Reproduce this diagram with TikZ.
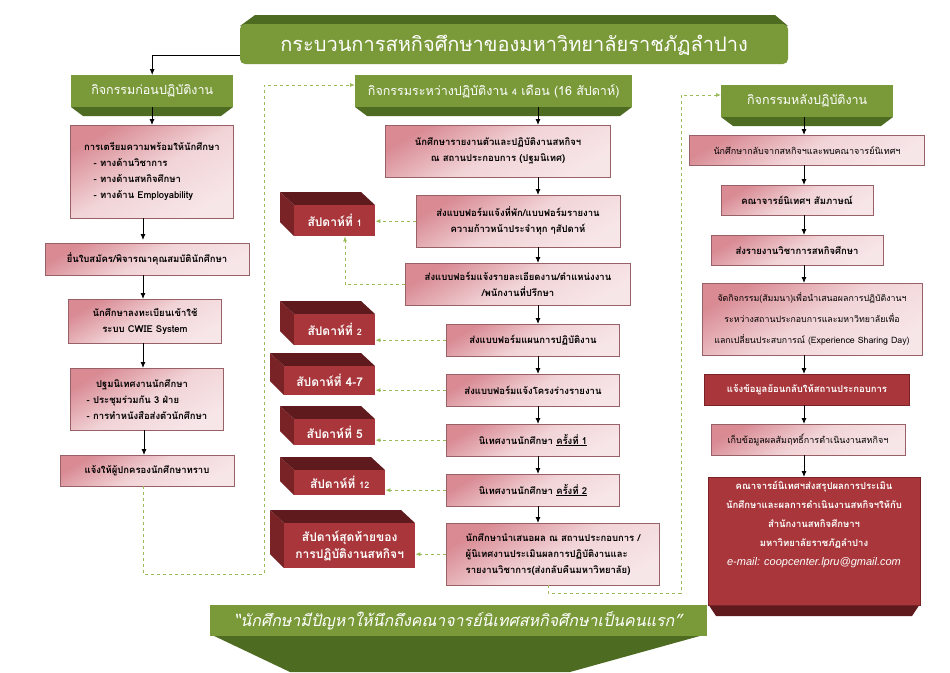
\documentclass[tikz,border=0pt]{standalone}
\usepackage{fontspec}
\setmainfont[Script=Thai]{Loma}
\usetikzlibrary{arrows.meta,calc}
\definecolor{gA}{HTML}{7A9A3A}
\definecolor{gB}{HTML}{4E6B22}
\definecolor{pk}{HTML}{D98A93}
\definecolor{pl}{HTML}{F7E6E8}
\definecolor{rA}{HTML}{A8363A}
\definecolor{rB}{HTML}{7A2326}
\definecolor{rC}{HTML}{5E1A1C}
\definecolor{dg}{HTML}{9BBB59}
\tikzset{
 pbox/.style={draw=pk!70!black,line width=0.3pt,top color=pk,bottom color=pl,middle color=pl!80!pk,shading angle=30,align=center,font=\bfseries\fontsize{9.5}{16}\selectfont,inner sep=2pt},
 rbox/.style={draw=rB,fill=rA,text=white,align=center,font=\bfseries\fontsize{9.5}{16}\selectfont,inner sep=2pt},
 hdr/.style={fill=gA,text=white,font=\fontsize{12.5}{14}\selectfont,inner sep=2pt,minimum height=30pt},
 arr/.style={-{Latex[length=6pt,width=5pt]},line width=0.9pt},
 darr/.style={-{Latex[length=5pt,width=4pt]},dg,dashed,line width=0.8pt},
 wkt/.style={text=white,font=\bfseries\fontsize{12}{17}\selectfont,align=center},
}
\newcommand\hdrbox[6]{% name x0 y0 x1 y1 text
 \fill[gB] (#2,#5-9)--(#4,#5-9)--(#4-12,#5)--(#2+12,#5)--cycle;
 \node[hdr,minimum width=#4-#2,minimum height=#5-#3-9,anchor=north west] (#1) at (#2,#3) {#6};}
\newcommand\wkbox[6]{% name x0 y0 x1 y1 text
 \fill[rC] (#2,#3)--(#4-14,#3)--(#4,#3+13)--(#2+14,#3+13)--cycle;
 \fill[rB] (#2,#3)--(#2+14,#3+13)--(#2+14,#5)--(#2,#5-14)--cycle;
 \fill[rA] (#2+14,#3+13) rectangle (#4,#5);
 \node[wkt,minimum width=#4-#2-14,minimum height=#5-#3-13,anchor=north west,inner sep=0] (#1) at (#2+14,#3+13) {#6};}
\begin{document}
\begin{tikzpicture}[x=1pt,y=-1pt]
\useasboundingbox (0,0) rectangle (950,672);
% title
\fill[gB] (240,26)--(255,15)--(775,15)--(788,26)--cycle;
\fill[gA,rounded corners=5pt] (240,24) rectangle (788,64);
\node[text=white,font=\fontsize{20}{22}\selectfont] (title) at (514,45) {กระบวนการสหกิจศึกษาของมหาวิทยาลัยราชภัฏลำปาง};
% headers
\hdrbox{h1}{71}{75}{233}{116}{กิจกรรมก่อนปฏิบัติงาน}
\hdrbox{h2}{355}{75}{632}{116}{กิจกรรมระหว่างปฏิบัติงาน {\fontsize{9}{10}\selectfont 4} เดือน (16 สัปดาห์)}
\hdrbox{h3}{721}{85}{893}{126}{กิจกรรมหลังปฏิบัติงาน}
\coordinate (tl) at (240,55);
\draw[arr] (tl) -| (h1.north);
% left column
\node[pbox,minimum width=163,minimum height=93,anchor=north,align=left] (l1) at (152,125) {การเตรียมความพร้อมให้นักศึกษา\\\quad - ทางด้านวิชาการ\\\quad - ทางด้านสหกิจศึกษา\\\quad - ทางด้าน Employability};
\node[pbox,minimum width=204,minimum height=32,anchor=north] (l2) at (147,243) {ยื่นใบสมัคร/พิจารณาคุณสมบัตินักศึกษา};
\node[pbox,minimum width=153,minimum height=44,anchor=north] (l3) at (145,299) {นักศึกษาลงทะเบียนเข้าใช้\\ระบบ CWIE System};
\node[pbox,minimum width=153,minimum height=62,anchor=north,align=left] (l4) at (147,368) {\quad ปฐมนิเทศงานนักศึกษา\\- ประชุมร่วมกัน 3 ฝ่าย\\- การทำหนังสือส่งตัวนักศึกษา};
\node[pbox,minimum width=174,minimum height=31,anchor=north] (l5) at (147,455) {แจ้งให้ผู้ปกครองนักศึกษาทราบ};
\draw[arr] (h1.south -| l1) -- (l1);
\draw[arr] (l1.south -| 143,0) -- (143,240);
\draw[arr] (l2.south -| 143,0) -- (l3.north -| 143,0);
\draw[arr] (l3.south -| 143,0) -- (l4.north -| 143,0);
\draw[arr] (l4.south -| 144,0) -- (l5.north -| 144,0);
\coordinate (c1) at (264,574);
\draw[darr] (l5.south -| 143,0) |- (c1) |- (h2.west |- 0,85);
% middle column
\node[pbox,minimum width=225,minimum height=52,anchor=north] (m1) at (498,125) {นักศึกษารายงานตัวและปฏิบัติงานสหกิจฯ\\ณ สถานประกอบการ (ปฐมนิเทศ)};
\node[pbox,minimum width=204,minimum height=52,anchor=north] (m2) at (518,195) {ส่งแบบฟอร์มแจ้งที่พัก/แบบฟอร์มรายงาน\\ความก้าวหน้าประจำทุก ๆสัปดาห์};
\node[pbox,minimum width=225,minimum height=42,anchor=north] (m3) at (518,263) {ส่งแบบฟอร์มแจ้งรายละเอียดงาน/ตำแหน่งงาน\\/พนักงานที่ปรึกษา};
\node[pbox,minimum width=173,minimum height=32,anchor=north] (m4) at (533,324) {ส่งแบบฟอร์มแผนการปฏิบัติงาน};
\node[pbox,minimum width=173,minimum height=32,anchor=north] (m5) at (533,374) {ส่งแบบฟอร์มแจ้งโครงร่างรายงาน};
\node[pbox,minimum width=173,minimum height=32,anchor=north] (m6) at (533,424) {นิเทศงานนักศึกษา \underline{ครั้งที่ 1}};
\node[pbox,minimum width=173,minimum height=32,anchor=north] (m7) at (533,474) {นิเทศงานนักศึกษา \underline{ครั้งที่ 2}};
\node[pbox,minimum width=213,minimum height=62,anchor=north,align=left] (m8) at (553,523) {นักศึกษานำเสนอผล ณ สถานประกอบการ /\\ผู้นิเทศงานประเมินผลการปฏิบัติงานและ\\รายงานวิชาการ(ส่งกลับคืนมหาวิทยาลัย)};
\foreach \a/\b in {h2/m1,m1/m2,m2/m3,m3/m4,m4/m5,m5/m6,m6/m7,m7/m8}
 \draw[arr] (\a.south -| 538,0) -- (\b.north -| 538,0);
% weeks
\wkbox{w1}{280}{192}{375}{236}{สัปดาห์ที่ {\fontsize{9}{10}\selectfont 1}}
\wkbox{w2}{280}{301}{375}{345}{สัปดาห์ที่ {\fontsize{9}{10}\selectfont 2}}
\wkbox{w3}{270}{353}{375}{395}{สัปดาห์ที่ 4-7}
\wkbox{w4}{280}{406}{375}{445}{สัปดาห์ที่ 5}
\wkbox{w5}{280}{457}{385}{495}{สัปดาห์ที่ {\fontsize{9}{10}\selectfont 12}}
\wkbox{w6}{270}{510}{415}{568}{สัปดาห์สุดท้ายของ\\การปฏิบัติงานสหกิจฯ}
\draw[darr] (m2.west) -- (w1.east |- m2.west);
\draw[darr] (m3.west) -| (w1.south -| 345,0);
\draw[darr] (m4.west) -- (w2.east |- m4.west);
\draw[darr] (m5.west) -- (w3.east |- m5.west);
\draw[darr] (m6.west) -- (w4.east |- m6.west);
\draw[darr] (m7.west) -- (w5.east |- m7.west);
\draw[darr] (m8.west) -- (w6.east |- m8.west);
\coordinate (c2) at (681,593);
\draw[darr] (m8.south -| 548,0) |- (c2) |- (h3.west |- 0,95);
% right column
\node[pbox,font=\fontsize{9}{15}\selectfont,minimum width=235,minimum height=30,anchor=north] (r1) at (807,135) {นักศึกษากลับจากสหกิจฯและพบคณาจารย์นิเทศฯ};
\node[pbox,minimum width=152,minimum height=30,anchor=north] (r2) at (797,185) {คณาจารย์นิเทศฯ สัมภาษณ์};
\node[pbox,minimum width=172,minimum height=30,anchor=north] (r3) at (797,235) {ส่งรายงานวิชาการสหกิจศึกษา};
\node[pbox,font=\fontsize{8.8}{21}\selectfont,minimum width=220,minimum height=72,anchor=north] (r4) at (812,283) {จัดกิจกรรม(สัมมนา)เพื่อนำเสนอผลการปฏิบัติงานฯ\\ระหว่างสถานประกอบการและมหาวิทยาลัยเพื่อ\\แลกเปลี่ยนประสบการณ์ (Experience Sharing Day)};
\node[rbox,minimum width=205,minimum height=31,anchor=north] (r5) at (807,374) {แจ้งข้อมูลย้อนกลับให้สถานประกอบการ};
\node[pbox,font=\fontsize{9}{15}\selectfont,minimum width=194,minimum height=31,anchor=north] (r6) at (808,424) {เก็บข้อมูลผลสัมฤทธิ์การดำเนินงานสหกิจฯ};
\fill[rC] (708,604)--(920,604)--(912,616)--(716,616)--cycle;
\node[rbox,font=\bfseries\fontsize{9.5}{19}\selectfont,minimum width=212,minimum height=128,anchor=north] (r7) at (814,477) {คณาจารย์นิเทศฯส่งสรุปผลการประเมิน\\นักศึกษาและผลการดำเนินงานสหกิจฯให้กับ\\สำนักงานสหกิจศึกษาฯ\\มหาวิทยาลัยราชภัฏลำปาง\\{\normalfont\fontspec{Liberation Sans}\itshape\fontsize{11}{19}\selectfont e-mail: coopcenter.lpru@gmail.com}\\[16pt]};
\foreach \a/\b in {h3/r1,r1/r2,r2/r3,r3/r4,r4/r5,r5/r6,r6/r7}
 \draw[arr] (\a.south -| 804,0) -- (\b.north -| 804,0);
% bottom banner
\fill[gB] (210,634)--(707,634)--(570,672)--(290,672)--cycle;
\fill[gA] (210,605) rectangle (707,636);
\node[text=white,font=\itshape\fontsize{16}{18}\selectfont] (quote) at (458,621) {“นักศึกษามีปัญหาให้นึกถึงคณาจารย์นิเทศสหกิจศึกษาเป็นคนแรก”};
\end{tikzpicture}
\end{document}
